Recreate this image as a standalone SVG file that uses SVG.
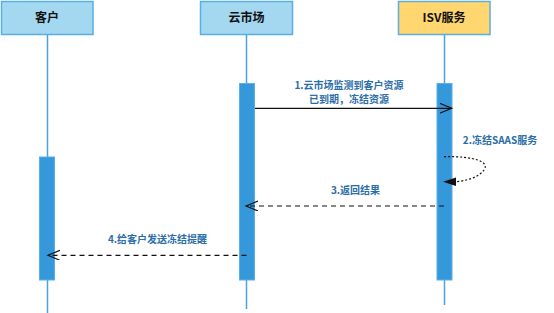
<svg xmlns="http://www.w3.org/2000/svg" width="554" height="313" viewBox="0 0 554 313">
<defs>
<style>
.hdr{fill:#a3d8f0;stroke:#5aaee3;stroke-width:1.5}
.isv{fill:#ffd670;stroke:#5aaee3;stroke-width:1.5}
.life{stroke:#4aa3e0;stroke-width:1.5;fill:none}
.bar{fill:#3598db;stroke:#5ab0e8;stroke-width:1}
.ht{font-family:"Noto Sans CJK SC","Liberation Sans",sans-serif;font-size:12px;font-weight:bold;fill:#111;text-anchor:middle}
.lt{font-family:"Noto Sans CJK SC","Liberation Sans",sans-serif;font-size:10px;font-weight:bold;fill:#2b6ea8;text-anchor:middle}
.msg{stroke:#111;stroke-width:1.2;fill:none}
.dash{stroke-dasharray:5 4}
.dot{stroke-dasharray:2 2}
</style>
<marker id="open" markerWidth="14" markerHeight="12" refX="12" refY="5" orient="auto" markerUnits="userSpaceOnUse">
<path d="M0,0 L12,5 L0,10" fill="none" stroke="#111" stroke-width="1.2"/>
</marker>
<marker id="solid" markerWidth="14" markerHeight="12" refX="12" refY="4" orient="auto" markerUnits="userSpaceOnUse">
<path d="M0,0 L12,4 L0,8 Z" fill="#111"/>
</marker>
</defs>
<rect width="554" height="313" fill="#fff"/>
<g id="node-customer">
<rect class="hdr" x="1.5" y="1.5" width="91.5" height="33"/>
<text class="ht" x="47" y="22">客户</text>
<line class="life" x1="47.5" y1="35" x2="47.5" y2="313"/>
<rect class="bar" x="39.5" y="157" width="15" height="123"/>
</g>
<g id="node-market">
<rect class="hdr" x="200.5" y="1.5" width="92" height="33"/>
<text class="ht" x="246.5" y="22">云市场</text>
<line class="life" x1="246.5" y1="35" x2="246.5" y2="309"/>
<rect class="bar" x="239.5" y="83.5" width="15" height="196.5"/>
</g>
<g id="node-isv">
<rect class="isv" x="398.5" y="1.5" width="91.5" height="33"/>
<text class="ht" x="444" y="22">ISV服务</text>
<line class="life" x1="444.5" y1="35" x2="444.5" y2="305"/>
<rect class="bar" x="437" y="83.5" width="15" height="196.5"/>
</g>
<g id="connectors">
<line class="msg" x1="255" y1="108.3" x2="451.7" y2="108.3" marker-end="url(#open)"/>
<path class="msg dot" d="M444,156.7 C475,156 490,162 484,170 C478,178 465,181 455.5,181.7"/>
<path d="M443,181.7 L456,177.5 L456,186 Z" fill="#111"/>
<line class="msg dash" x1="444" y1="206" x2="246" y2="206" marker-end="url(#open)"/>
<line class="msg dash" x1="246.5" y1="255.3" x2="48" y2="255.3" marker-end="url(#open)"/>
</g>
<g id="labels">
<text class="lt" x="349" y="89">1.云市场监测到客户资源</text>
<text class="lt" x="349" y="103">已到期，冻结资源</text>
<text class="lt" x="500" y="144">2.冻结SAAS服务</text>
<text class="lt" x="355.5" y="194">3.返回结果</text>
<text class="lt" x="157.5" y="243">4.给客户发送冻结提醒</text>
</g>
</svg>
